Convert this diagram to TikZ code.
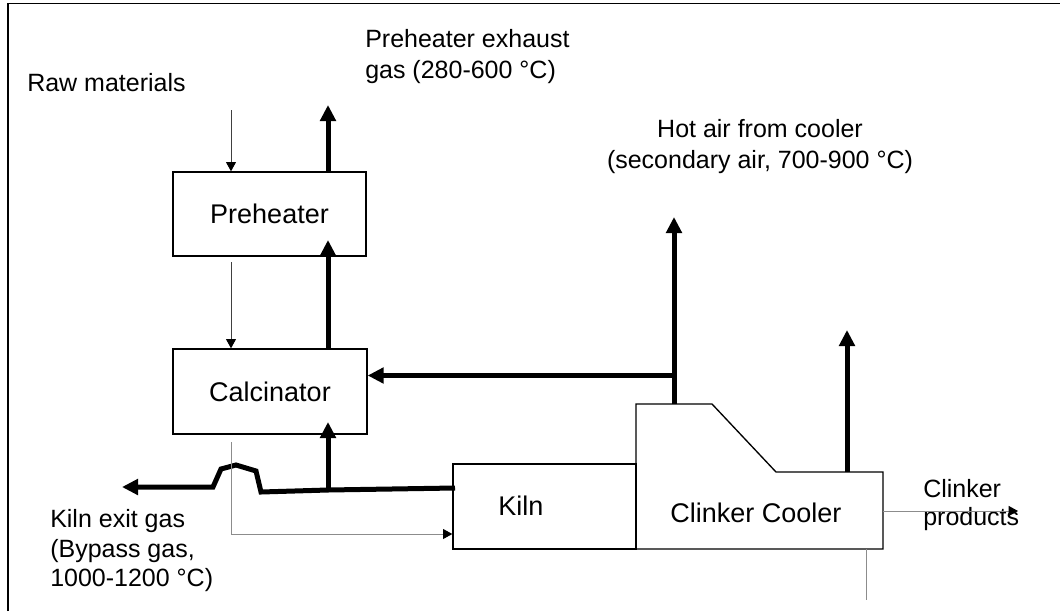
\documentclass[tikz,border=0pt]{standalone}
\usepackage{fontspec}
\setmainfont{Liberation Sans}
\usetikzlibrary{arrows.meta}
\begin{document}
\begin{tikzpicture}[x=0.75pt,y=-0.75pt,
  box/.style={draw, line width=1pt, inner sep=0pt},
  boxlabel/.style={font=\fontsize{20.25pt}{24pt}\selectfont},
  lbl/.style={font=\fontsize{18.75pt}{22.5pt}\selectfont, inner sep=0pt},
  bigflow/.style={line width=3.75pt, -{Triangle[length=12pt,width=11.5pt]}},
  thinflow/.style={line width=0.75pt, draw=black!75, -{Triangle[length=7pt,width=7.5pt,color=black]}},
  greyflow/.style={line width=0.75pt, draw=black!45, -{Triangle[length=7pt,width=7.5pt,color=black]}},
  greyline/.style={line width=0.75pt, draw=black!45},
  frame/.style={line width=1.1pt}]
\useasboundingbox (0,0) rectangle (1060,611);
% frame (only top and left edges are visible)
\draw[frame] (8,611) -- (8,3.5) -- (1060,3.5);

% units
\node[box, boxlabel, minimum width=144.75pt, minimum height=63pt] (pre) at (269.5,214) {Preheater};
\node[box, boxlabel, minimum width=145.5pt, minimum height=63.75pt] (cal) at (270,391.5) {Calcinator};
\node[box, minimum width=137.25pt, minimum height=63.75pt] (kiln) at (544.5,506.5) {};
\node[boxlabel, inner sep=0pt, anchor=base west] (kilnlabel) at (498,515) {Kiln};

% clinker cooler outline
\coordinate (cnw) at (636,404);
\coordinate (cne) at (883,472);
\coordinate (cse) at (883,549);
\draw[line width=1pt] (cnw) -- (712,404) -- (776,472) -- (cne) -- (cse) -- (636,549) -- cycle;
\node[boxlabel, inner sep=0pt, anchor=base] (coollabel) at (756,522) {Clinker Cooler};

% texts
\node[lbl, anchor=base west] (raw) at (27,91) {Raw materials};
\node[lbl, anchor=base west] (exh1) at (365,47) {Preheater exhaust};
\node[lbl, anchor=base west] (exh2) at (365,78) {gas (280-600 °C)};
\node[lbl, anchor=base] (hot1) at (760,137) {Hot air from cooler};
\node[lbl, anchor=base] (hot2) at (760,168) {(secondary air, 700-900 °C)};
\node[lbl, anchor=base west] (kg1) at (50,527) {Kiln exit gas};
\node[lbl, anchor=base west] (kg2) at (50,557) {(Bypass gas,};
\node[lbl, anchor=base west] (kg3) at (50,586) {1000-1200 °C)};
\node[lbl, anchor=base west] (cp1) at (923,497) {Clinker};
\node[lbl, anchor=base west] (cp2) at (923,525) {products};

% raw materials into preheater
\coordinate (rawtop) at (231,110);
\draw[thinflow] (rawtop) -- (rawtop |- pre.north);
% preheater exhaust
\coordinate (exhtip) at (328,105);
\draw[bigflow] (exhtip |- pre.north) -- (exhtip);
% preheater to calcinator (material)
\coordinate (pcs) at (231,262);
\draw[thinflow] (pcs) -- (pcs |- cal.north);
% calcinator to preheater (gas)
\coordinate (cptip) at (328,240);
\draw[bigflow] (cptip |- cal.north) -- (cptip);
% kiln gas into calcinator
\coordinate (kcj) at (328,490);
\coordinate (kctip) at (328,422);
\draw[bigflow] (kcj) -- (kctip);
% kiln exit gas (bypass) line with bump
\coordinate (kgs) at (455,488);
\coordinate (kgtip) at (122,487);
\draw[bigflow, line join=miter] (kgs) -- (kcj) -- (261,492) -- (256,471) -- (236,465) -- (221,469) -- (213,487) -- (kgtip);
% calcinator material to kiln
\coordinate (bps) at (231,442);
\coordinate (bpc) at (231,534);
\draw[greyflow] (bps) -- (bpc) -- (bpc -| kiln.west);
% secondary air from cooler
\coordinate (sab) at (674,404);
\coordinate (satip) at (674,217);
\draw[bigflow] (sab) -- (satip);
\coordinate (saj) at (676,375.5);
\draw[bigflow] (saj) -- (saj -| cal.east);
% cooler exhaust
\coordinate (cetip) at (847,330);
\draw[bigflow] (cetip |- cne) -- (cetip);
% clinker products
\coordinate (cptp) at (1018,511);
\draw[greyflow] (cptp -| cne) -- (cptp);
% cooling air line below cooler
\coordinate (bl) at (866,600);
\draw[greyline] (bl |- cse) -- (bl);
\end{tikzpicture}
\end{document}
